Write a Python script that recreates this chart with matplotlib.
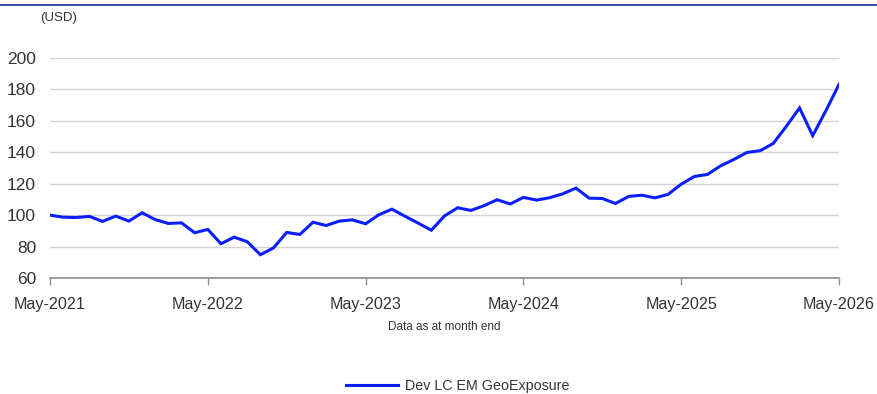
import matplotlib
matplotlib.use("Agg")
import matplotlib.pyplot as plt
import numpy as np

plt.rcParams['font.family'] = ['Liberation Sans', 'DejaVu Sans']

# Monthly values, May-2021 .. May-2026
values = [
    100.0, 98.7, 98.5, 99.2, 96.0, 99.4, 96.2, 101.5, 97.2, 94.7, 95.1, 88.8,
    90.9, 81.8, 86.0, 83.1, 74.8, 79.2, 89.0, 87.7, 95.5, 93.4, 96.2, 97.0,
    94.5, 100.2, 103.8, 99.3, 94.9, 90.4, 99.5, 104.7, 103.0, 106.0, 109.8, 107.1,
    111.3, 109.6, 111.1, 113.6, 117.2, 110.8, 110.6, 107.4, 111.9, 112.7, 111.0, 113.2,
    119.7, 124.6, 125.9, 131.4, 135.4, 139.9, 141.0, 145.6, 156.6, 168.2, 150.6, 166.4,
    183.2,
]
series_name = "Dev LC EM GeoExposure"
xtick_labels = ["May-2021", "May-2022", "May-2023", "May-2024", "May-2025", "May-2026"]
ytick_values = [60, 80, 100, 120, 140, 160, 180, 200]

fig = plt.figure(figsize=(8.78, 3.94), dpi=100)
ax = fig.add_axes([50/878, 1-278/394, 789/878, 220/394])

x = np.arange(len(values))
line_color = '#0a1eff'
ax.plot(x, values, color=line_color, lw=2.2, label=series_name, solid_joinstyle='miter')

ax.set_xlim(0, len(values) - 1)
ax.set_ylim(60, 200)
ax.set_yticks(ytick_values)
ax.set_yticklabels([str(v) for v in ytick_values])
ax.set_xticks(np.arange(0, len(values), 12))
ax.set_xticklabels(xtick_labels)

for s in ['top', 'right', 'left']:
    ax.spines[s].set_visible(False)
ax.spines['bottom'].set_color('#8c8c8c')
ax.spines['bottom'].set_linewidth(1.2)
ax.grid(axis='y', color='#d4d4d4', lw=1.0)
ax.set_axisbelow(True)
ax.tick_params(axis='y', length=0, pad=10, labelsize=12.5, labelcolor='#333333')
ax.tick_params(axis='x', length=5, width=1.0, color='#8c8c8c', pad=8.5,
               labelsize=11.6, labelcolor='#333333')

# top rule
fig.add_artist(plt.Line2D([0, 1], [1-5/394, 1-5/394], color='#1f2a9e', lw=1.2,
                          transform=fig.transFigure))

fig.text(40/878, 1-18/394, "(USD)", fontsize=9.5, color='#333333', va='center', ha='left')
fig.text(444/878, 1-327/394, "Data as at month end", fontsize=8.5, color='#333333',
         va='center', ha='center')

leg = fig.legend(loc='center', bbox_to_anchor=(458/878, 1-386/394), frameon=False,
                 fontsize=10.3, handlelength=3.6, handletextpad=0.5)
for t in leg.get_texts():
    t.set_color('#333333')

fig.savefig("out.png", dpi=100)
